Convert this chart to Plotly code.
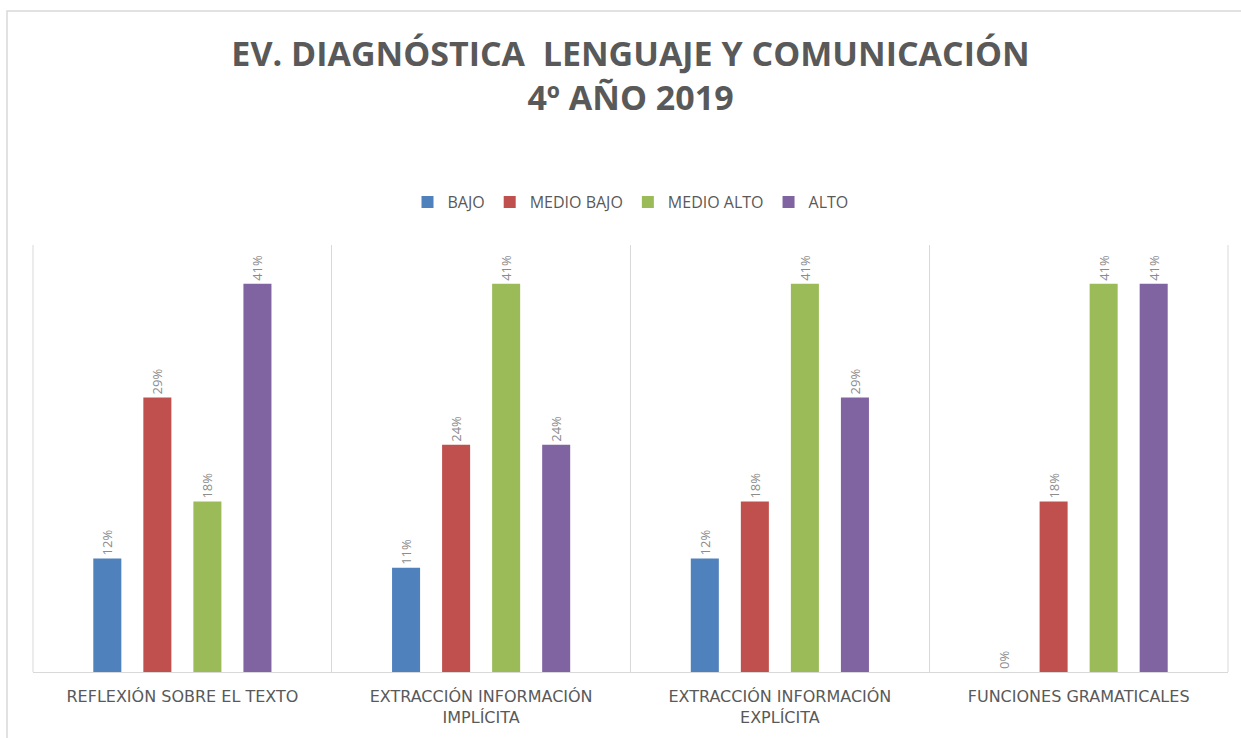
import plotly.graph_objects as go

categories = [
    "REFLEXIÓN SOBRE EL TEXTO",
    "EXTRACCIÓN INFORMACIÓN<br>IMPLÍCITA",
    "EXTRACCIÓN INFORMACIÓN<br>EXPLÍCITA",
    "FUNCIONES GRAMATICALES",
]
series_names = ["BAJO", "MEDIO BAJO", "MEDIO ALTO", "ALTO"]
bajo = [0.12, 0.11, 0.12, 0.0]
medio_bajo = [0.29, 0.24, 0.18, 0.18]
medio_alto = [0.18, 0.41, 0.41, 0.41]
alto = [0.41, 0.24, 0.29, 0.41]
colors = ["#4F81BD", "#C0504D", "#9BBB59", "#8064A2"]

fig = go.Figure()
for name, vals, col in zip(series_names, [bajo, medio_bajo, medio_alto, alto], colors):
    fig.add_trace(go.Bar(
        x=categories, y=vals, name=name,
        marker=dict(color=col, line=dict(width=0)),
        texttemplate="%{y:.0%}", textposition="outside", textangle=-90,
        constraintext="none", cliponaxis=False,
        textfont=dict(family="Open Sans", size=13, color="#8C8C8C"),
    ))

W, H = 1241, 738
PL, PR, PT, PB = 33, 1228, 245, 672
pw, ph = PR - PL, PB - PT

fig.update_layout(
    width=W, height=H,
    margin=dict(l=PL, r=W - PR, t=PT, b=H - PB),
    paper_bgcolor="white", plot_bgcolor="white",
    barmode="group", bargap=0.33, bargroupgap=0.44,
    title=dict(
        text="EV. DIAGNÓSTICA  LENGUAJE Y COMUNICACIÓN<br>4º AÑO 2019",
        x=0.5, xanchor="center", xref="paper",
        y=1 - 66 / H, yanchor="middle", yref="container",
        font=dict(family="Open Sans", size=34, color="#595959", weight="bold"),
    ),
    legend=dict(
        orientation="h", x=0.5, xanchor="center", y=(PB - 202) / ph, yanchor="middle",
        font=dict(family="Open Sans", size=16, color="#595959"),
        traceorder="normal", itemwidth=30,
    ),
    xaxis=dict(
        type="category", tickson="boundaries", showgrid=True,
        gridcolor="#D9D9D9", gridwidth=1, ticks="",
        showline=True, linecolor="#D9D9D9", linewidth=1,
        ticklabelstandoff=10,
        tickfont=dict(family="DejaVu Sans", size=16, color="#595959"),
    ),
    yaxis=dict(range=[0, 0.451], visible=False, showgrid=False, zeroline=False),
    shapes=[
        dict(type="rect", xref="paper", yref="paper",
             x0=(7 - PL) / pw, x1=1.2, y0=-0.3, y1=(PB - 11) / ph,
             line=dict(color="#D9D9D9", width=1.5), fillcolor="rgba(0,0,0,0)",
             layer="below"),
        dict(type="line", xref="paper", yref="paper", x0=0, x1=0, y0=0, y1=1,
             line=dict(color="#D9D9D9", width=1), layer="below"),
        dict(type="line", xref="paper", yref="paper", x0=1, x1=1, y0=0, y1=1,
             line=dict(color="#D9D9D9", width=1), layer="below"),
    ],
)

fig.write_html("out.html", config={"displayModeBar": False},
               post_script="document.body.style.margin='0';")
